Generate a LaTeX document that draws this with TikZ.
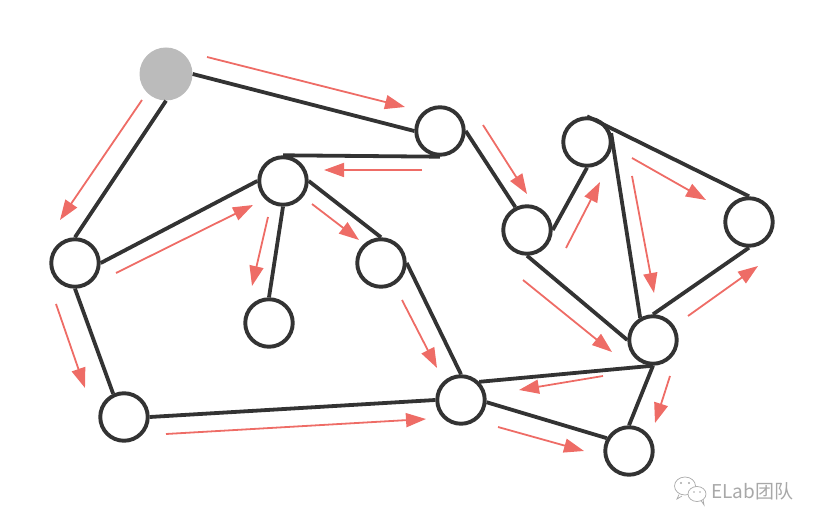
\documentclass[tikz,border=0pt]{standalone}
\usepackage{fontspec}
\newfontfamily\cjkfont{Noto Sans CJK SC}
\usetikzlibrary{arrows.meta}
\definecolor{edgec}{HTML}{333333}
\definecolor{arrc}{HTML}{EE6C66}
\definecolor{startc}{HTML}{BBBBBB}
\definecolor{wmc}{HTML}{A8A8A8}
\tikzset{
  vert/.style={circle, draw=edgec, line width=3.9pt, fill=white, minimum size=47.5pt, inner sep=0pt},
  startvert/.style={circle, fill=startc, minimum size=53pt, inner sep=0pt},
  edge/.style={draw=edgec, line width=3.8pt},
  walk/.style={draw=arrc, line width=1.8pt, -{Triangle[length=20pt, width=14pt]}},
}
\begin{document}
\begin{tikzpicture}[x=1pt, y=-1pt]
\useasboundingbox (0,0) rectangle (824,526);
\node[startvert] (A) at (166,74) {};
\node[vert] (B) at (440,131) {};
\node[vert] (C) at (283,181) {};
\node[vert] (D) at (75,263) {};
\node[vert] (E) at (269,323) {};
\node[vert] (F) at (381,263) {};
\node[vert] (G) at (527,230) {};
\node[vert] (H) at (587,142) {};
\node[vert] (I) at (749,222) {};
\node[vert] (J) at (653,340) {};
\node[vert] (K) at (461,400) {};
\node[vert] (L) at (124,417) {};
\node[vert] (M) at (629,451) {};
\path[edge] (A.east) -- (B.west);
\path[edge] (A.south) -- (D.north);
\path[edge] (C.north) -- (B.south);
\path[edge] (D.east) -- (C.west);
\path[edge] (C.south) -- (E.north);
\path[edge] (C.east) -- (F.north);
\path[edge] (F.east) -- (K.north);
\path[edge] (D.south) -- (L.115);
\path[edge] (L.east) -- (K.west);
\path[edge] (K.45) -- (J.south);
\path[edge] (K.-5) -- (M.150);
\path[edge] (J.south) -- (M.north);
\path[edge] (G.south) -- (J.west);
\path[edge] (G.east) -- (H.south);
\path[edge] (B.east) -- (G.117);
\path[edge] (H.north) -- (I.north);
\path[edge] (H.20) -- (J.120);
\path[edge] (I.south) -- (J.north);
% walk arrows
\coordinate (ab1) at (207,57);  \coordinate (ab2) at (405,107);
\coordinate (ad1) at (142,100); \coordinate (ad2) at (60,220);
\coordinate (bc1) at (422,170); \coordinate (bc2) at (324,170);
\coordinate (dc1) at (116,273); \coordinate (dc2) at (253,205);
\coordinate (ce1) at (268,217); \coordinate (ce2) at (252,286);
\coordinate (cf1) at (312,204); \coordinate (cf2) at (359,240);
\coordinate (fk1) at (402,300); \coordinate (fk2) at (437,368);
\coordinate (dl1) at (56,304);  \coordinate (dl2) at (85,388);
\coordinate (lk1) at (166,434); \coordinate (lk2) at (426,419);
\coordinate (bg1) at (483,125); \coordinate (bg2) at (527,194);
\coordinate (gh1) at (566,248); \coordinate (gh2) at (600,182);
\coordinate (hi1) at (632,158); \coordinate (hi2) at (706,200);
\coordinate (hj1) at (632,176); \coordinate (hj2) at (654,293);
\coordinate (ji1) at (688,316); \coordinate (ji2) at (758,266);
\coordinate (gj1) at (523,280); \coordinate (gj2) at (612,352);
\coordinate (jk1) at (603,376); \coordinate (jk2) at (519,390);
\coordinate (jm1) at (670,376); \coordinate (jm2) at (655,423);
\coordinate (km1) at (498,427); \coordinate (km2) at (584,451);
\foreach \p in {ab,ad,bc,dc,ce,cf,fk,dl,lk,bg,gh,hi,hj,ji,gj,jk,jm,km}
  \path[walk] (\p1) -- (\p2);
% watermark
\begin{scope}[draw=wmc, line width=0.7pt]
\draw (685,486) ellipse (10.5pt and 9pt);
\draw (679,494.5) -- (677,499) -- (682,496);
\draw[fill=white] (697,494) ellipse (9pt and 7.5pt);
\draw (701,500.5) -- (704,505) -- (703,499.5);
\fill[wmc] (681,483) circle (1.1pt);
\fill[wmc] (689,483) circle (1.1pt);
\fill[wmc] (694,492) circle (0.9pt);
\fill[wmc] (700,492) circle (0.9pt);
\end{scope}
\node[anchor=west, text=wmc, font=\cjkfont\fontsize{19}{19}\selectfont, inner sep=0pt] (wm) at (711,491) {ELab团队};
\end{tikzpicture}
\end{document}
